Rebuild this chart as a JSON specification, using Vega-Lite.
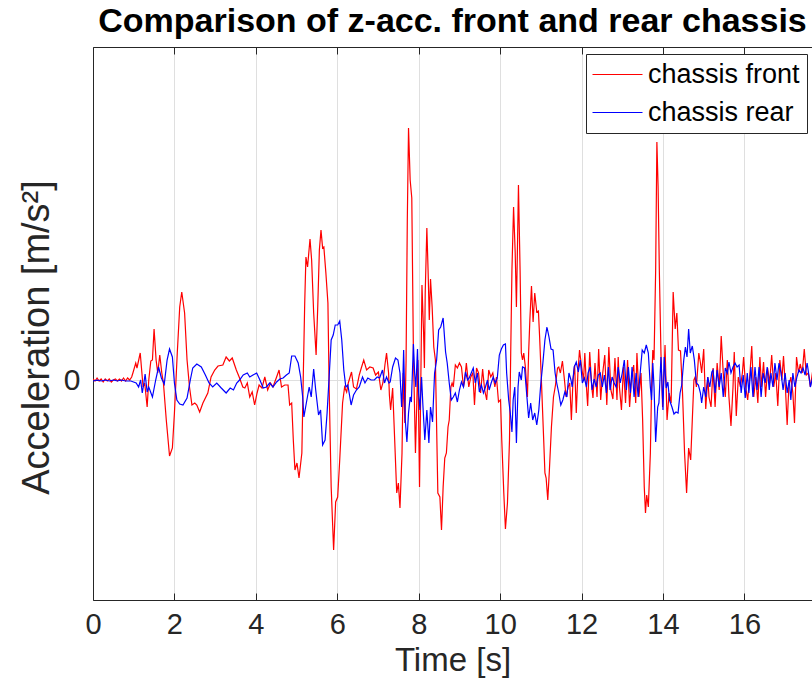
{
"$schema":"https://vega.github.io/schema/vega-lite/v6.json",
"width":719,"height":553,
"autosize":{"type":"none"},
"padding":{"left":93,"top":47,"right":0,"bottom":98},
"background":"white",
"title":{"text":"Comparison of z-acc. front and rear chassis","fontSize":34,"fontWeight":"bold","color":"#000000","font":"Liberation Sans","offset":8,"anchor":"middle"},
"config":{"font":"Liberation Sans","view":{"stroke":null}},
"datasets":{
"acc":[
{"t":0,"a":0.1,"s":"chassis front"},{"t":0.05,"a":-0.1,"s":"chassis front"},{"t":0.1,"a":0.2,"s":"chassis front"},{"t":0.15,"a":-0.1,"s":"chassis front"},{"t":0.2,"a":0.1,"s":"chassis front"},{"t":0.25,"a":-0.2,"s":"chassis front"},{"t":0.3,"a":0.1,"s":"chassis front"},{"t":0.35,"a":-0.1,"s":"chassis front"},{"t":0.4,"a":0.1,"s":"chassis front"},{"t":0.45,"a":-0.2,"s":"chassis front"},{"t":0.5,"a":0,"s":"chassis front"},{"t":0.55,"a":0.1,"s":"chassis front"},{"t":0.6,"a":-0.1,"s":"chassis front"},{"t":0.65,"a":0.1,"s":"chassis front"},{"t":0.7,"a":-0.1,"s":"chassis front"},{"t":0.75,"a":0.2,"s":"chassis front"},{"t":0.8,"a":-0.1,"s":"chassis front"},{"t":0.85,"a":0.2,"s":"chassis front"},{"t":0.9,"a":0,"s":"chassis front"},{"t":0.95,"a":0.3,"s":"chassis front"},
{"t":0.98,"a":0.7,"s":"chassis front"},{"t":1.05,"a":1.7,"s":"chassis front"},{"t":1.08,"a":1.2,"s":"chassis front"},{"t":1.16,"a":2.7,"s":"chassis front"},{"t":1.23,"a":-0.7,"s":"chassis front"},{"t":1.27,"a":-0.3,"s":"chassis front"},{"t":1.33,"a":-2.7,"s":"chassis front"},{"t":1.37,"a":0,"s":"chassis front"},{"t":1.42,"a":1.9,"s":"chassis front"},{"t":1.46,"a":2.0,"s":"chassis front"},{"t":1.5,"a":5.1,"s":"chassis front"},{"t":1.55,"a":2.0,"s":"chassis front"},{"t":1.59,"a":0.7,"s":"chassis front"},{"t":1.64,"a":2.5,"s":"chassis front"},{"t":1.69,"a":0.7,"s":"chassis front"},{"t":1.73,"a":-0.3,"s":"chassis front"},{"t":1.8,"a":-4.0,"s":"chassis front"},{"t":1.88,"a":-7.6,"s":"chassis front"},{"t":1.95,"a":-6.8,"s":"chassis front"},{"t":2.0,"a":-3.3,"s":"chassis front"},{"t":2.07,"a":2.7,"s":"chassis front"},{"t":2.13,"a":7.3,"s":"chassis front"},{"t":2.18,"a":8.8,"s":"chassis front"},{"t":2.25,"a":6.7,"s":"chassis front"},{"t":2.31,"a":2.0,"s":"chassis front"},{"t":2.37,"a":-0.7,"s":"chassis front"},{"t":2.43,"a":-2.5,"s":"chassis front"},{"t":2.5,"a":-2.3,"s":"chassis front"},{"t":2.55,"a":-2.5,"s":"chassis front"},{"t":2.62,"a":-3.2,"s":"chassis front"},{"t":2.7,"a":-2.3,"s":"chassis front"},{"t":2.82,"a":-1.3,"s":"chassis front"},{"t":2.9,"a":0.3,"s":"chassis front"},{"t":2.99,"a":1.0,"s":"chassis front"},{"t":3.07,"a":1.4,"s":"chassis front"},{"t":3.19,"a":1.5,"s":"chassis front"},{"t":3.27,"a":2.3,"s":"chassis front"},{"t":3.35,"a":1.9,"s":"chassis front"},{"t":3.42,"a":2.2,"s":"chassis front"},{"t":3.52,"a":1.0,"s":"chassis front"},{"t":3.6,"a":0.2,"s":"chassis front"},{"t":3.68,"a":-0.7,"s":"chassis front"},{"t":3.73,"a":-0.8,"s":"chassis front"},{"t":3.79,"a":-0.3,"s":"chassis front"},{"t":3.85,"a":-1.7,"s":"chassis front"},{"t":3.91,"a":-1.2,"s":"chassis front"},{"t":3.97,"a":-2.5,"s":"chassis front"},{"t":4.03,"a":-1.3,"s":"chassis front"},{"t":4.08,"a":-0.5,"s":"chassis front"},{"t":4.15,"a":-0.8,"s":"chassis front"},{"t":4.22,"a":0.3,"s":"chassis front"},{"t":4.29,"a":-1.0,"s":"chassis front"},{"t":4.36,"a":-0.3,"s":"chassis front"},{"t":4.42,"a":-0.7,"s":"chassis front"},{"t":4.51,"a":0.3,"s":"chassis front"},{"t":4.57,"a":1.0,"s":"chassis front"},{"t":4.63,"a":-0.7,"s":"chassis front"},{"t":4.71,"a":-0.5,"s":"chassis front"},{"t":4.79,"a":-0.5,"s":"chassis front"},{"t":4.83,"a":-2.5,"s":"chassis front"},{"t":4.88,"a":-2.3,"s":"chassis front"},{"t":4.92,"a":-6.0,"s":"chassis front"},{"t":4.96,"a":-9.0,"s":"chassis front"},{"t":5.01,"a":-8.3,"s":"chassis front"},{"t":5.06,"a":-9.8,"s":"chassis front"},{"t":5.13,"a":-7.3,"s":"chassis front"},{"t":5.16,"a":-0.7,"s":"chassis front"},{"t":5.2,"a":7.7,"s":"chassis front"},{"t":5.23,"a":12.3,"s":"chassis front"},{"t":5.27,"a":11.3,"s":"chassis front"},{"t":5.33,"a":14.1,"s":"chassis front"},{"t":5.37,"a":12.0,"s":"chassis front"},{"t":5.42,"a":6.7,"s":"chassis front"},{"t":5.48,"a":2.5,"s":"chassis front"},{"t":5.52,"a":7.3,"s":"chassis front"},{"t":5.56,"a":13.0,"s":"chassis front"},{"t":5.6,"a":15.0,"s":"chassis front"},{"t":5.64,"a":13.2,"s":"chassis front"},{"t":5.67,"a":13.3,"s":"chassis front"},{"t":5.72,"a":10.7,"s":"chassis front"},{"t":5.77,"a":7.7,"s":"chassis front"},{"t":5.8,"a":-0.7,"s":"chassis front"},{"t":5.85,"a":-10.7,"s":"chassis front"},{"t":5.91,"a":-17.0,"s":"chassis front"},{"t":5.96,"a":-12.2,"s":"chassis front"},{"t":6.01,"a":-11.7,"s":"chassis front"},{"t":6.06,"a":-8.0,"s":"chassis front"},{"t":6.13,"a":-2.3,"s":"chassis front"},{"t":6.18,"a":-0.7,"s":"chassis front"},{"t":6.23,"a":-1.2,"s":"chassis front"},{"t":6.27,"a":-0.3,"s":"chassis front"},{"t":6.35,"a":0.8,"s":"chassis front"},{"t":6.4,"a":-0.7,"s":"chassis front"},{"t":6.47,"a":-0.9,"s":"chassis front"},{"t":6.54,"a":0.5,"s":"chassis front"},{"t":6.59,"a":1.2,"s":"chassis front"},{"t":6.65,"a":2.0,"s":"chassis front"},{"t":6.72,"a":1.0,"s":"chassis front"},{"t":6.8,"a":1.3,"s":"chassis front"},{"t":6.88,"a":1.2,"s":"chassis front"},{"t":6.94,"a":0.5,"s":"chassis front"},{"t":7.01,"a":0.8,"s":"chassis front"},{"t":7.07,"a":-1.0,"s":"chassis front"},{"t":7.12,"a":-0.3,"s":"chassis front"},{"t":7.17,"a":1.5,"s":"chassis front"},{"t":7.21,"a":2.7,"s":"chassis front"},{"t":7.26,"a":0.7,"s":"chassis front"},{"t":7.28,"a":-1.5,"s":"chassis front"},{"t":7.31,"a":-3.0,"s":"chassis front"},{"t":7.36,"a":-0.8,"s":"chassis front"},{"t":7.41,"a":-6.0,"s":"chassis front"},{"t":7.46,"a":-11.3,"s":"chassis front"},{"t":7.5,"a":-10.3,"s":"chassis front"},{"t":7.54,"a":-12.8,"s":"chassis front"},{"t":7.59,"a":-7.3,"s":"chassis front"},{"t":7.62,"a":0.7,"s":"chassis front"},{"t":7.66,"a":-4.3,"s":"chassis front"},{"t":7.69,"a":2.0,"s":"chassis front"},{"t":7.72,"a":16.0,"s":"chassis front"},{"t":7.75,"a":25.2,"s":"chassis front"},{"t":7.79,"a":20.0,"s":"chassis front"},{"t":7.83,"a":18.2,"s":"chassis front"},{"t":7.87,"a":2.7,"s":"chassis front"},{"t":7.92,"a":-7.3,"s":"chassis front"},{"t":7.95,"a":-2.7,"s":"chassis front"},{"t":7.98,"a":2.0,"s":"chassis front"},{"t":8.02,"a":-10.7,"s":"chassis front"},{"t":8.05,"a":-0.7,"s":"chassis front"},{"t":8.08,"a":9.5,"s":"chassis front"},{"t":8.12,"a":4.7,"s":"chassis front"},{"t":8.14,"a":1.2,"s":"chassis front"},{"t":8.16,"a":8.7,"s":"chassis front"},{"t":8.2,"a":15.2,"s":"chassis front"},{"t":8.23,"a":11.0,"s":"chassis front"},{"t":8.26,"a":6.0,"s":"chassis front"},{"t":8.29,"a":10.1,"s":"chassis front"},{"t":8.33,"a":7.3,"s":"chassis front"},{"t":8.37,"a":3.3,"s":"chassis front"},{"t":8.41,"a":2.0,"s":"chassis front"},{"t":8.44,"a":-4.7,"s":"chassis front"},{"t":8.47,"a":-11.3,"s":"chassis front"},{"t":8.52,"a":-11.7,"s":"chassis front"},{"t":8.56,"a":-15.0,"s":"chassis front"},{"t":8.6,"a":-10.7,"s":"chassis front"},{"t":8.64,"a":-7.8,"s":"chassis front"},{"t":8.68,"a":-7.3,"s":"chassis front"},{"t":8.72,"a":-4.7,"s":"chassis front"},{"t":8.75,"a":-4.0,"s":"chassis front"},{"t":8.79,"a":-0.7,"s":"chassis front"},{"t":8.82,"a":-0.3,"s":"chassis front"},{"t":8.85,"a":-0.7,"s":"chassis front"},{"t":8.9,"a":1.5,"s":"chassis front"},{"t":8.95,"a":1.2,"s":"chassis front"},{"t":9.0,"a":1.7,"s":"chassis front"},{"t":9.05,"a":1.3,"s":"chassis front"},{"t":9.1,"a":-0.7,"s":"chassis front"},{"t":9.13,"a":0,"s":"chassis front"},{"t":9.17,"a":1.7,"s":"chassis front"},{"t":9.23,"a":-0.7,"s":"chassis front"},{"t":9.28,"a":0.3,"s":"chassis front"},{"t":9.33,"a":0.7,"s":"chassis front"},{"t":9.37,"a":-2.5,"s":"chassis front"},{"t":9.42,"a":1.2,"s":"chassis front"},{"t":9.47,"a":0.7,"s":"chassis front"},{"t":9.52,"a":-1.3,"s":"chassis front"},{"t":9.57,"a":1.1,"s":"chassis front"},{"t":9.62,"a":-1.0,"s":"chassis front"},{"t":9.67,"a":-2.0,"s":"chassis front"},{"t":9.72,"a":1.0,"s":"chassis front"},{"t":9.77,"a":0.3,"s":"chassis front"},{"t":9.82,"a":0.7,"s":"chassis front"},{"t":9.87,"a":-0.7,"s":"chassis front"},{"t":9.91,"a":0.3,"s":"chassis front"},{"t":9.96,"a":-2.2,"s":"chassis front"},{"t":10.01,"a":-2.0,"s":"chassis front"},{"t":10.04,"a":-6.0,"s":"chassis front"},{"t":10.09,"a":-11.3,"s":"chassis front"},{"t":10.13,"a":-14.9,"s":"chassis front"},{"t":10.18,"a":-12.3,"s":"chassis front"},{"t":10.23,"a":-6.0,"s":"chassis front"},{"t":10.26,"a":2.7,"s":"chassis front"},{"t":10.29,"a":11.0,"s":"chassis front"},{"t":10.33,"a":17.3,"s":"chassis front"},{"t":10.37,"a":12.7,"s":"chassis front"},{"t":10.4,"a":7.3,"s":"chassis front"},{"t":10.43,"a":14.3,"s":"chassis front"},{"t":10.45,"a":19.5,"s":"chassis front"},{"t":10.49,"a":11.0,"s":"chassis front"},{"t":10.52,"a":2.7,"s":"chassis front"},{"t":10.55,"a":2.0,"s":"chassis front"},{"t":10.58,"a":2.7,"s":"chassis front"},{"t":10.62,"a":1.3,"s":"chassis front"},{"t":10.67,"a":-1.7,"s":"chassis front"},{"t":10.7,"a":2.7,"s":"chassis front"},{"t":10.73,"a":6.0,"s":"chassis front"},{"t":10.77,"a":9.4,"s":"chassis front"},{"t":10.81,"a":5.8,"s":"chassis front"},{"t":10.85,"a":8.7,"s":"chassis front"},{"t":10.9,"a":6.8,"s":"chassis front"},{"t":10.94,"a":6.9,"s":"chassis front"},{"t":10.97,"a":4.3,"s":"chassis front"},{"t":11.02,"a":-0.7,"s":"chassis front"},{"t":11.07,"a":-6.0,"s":"chassis front"},{"t":11.1,"a":-9.3,"s":"chassis front"},{"t":11.13,"a":-9.8,"s":"chassis front"},{"t":11.17,"a":-12.0,"s":"chassis front"},{"t":11.21,"a":-9.0,"s":"chassis front"},{"t":11.26,"a":-4.7,"s":"chassis front"},{"t":11.31,"a":-1.7,"s":"chassis front"},{"t":11.36,"a":-0.5,"s":"chassis front"},{"t":11.41,"a":1.2,"s":"chassis front"},{"t":11.44,"a":1.3,"s":"chassis front"},{"t":11.48,"a":0.7,"s":"chassis front"},{"t":11.53,"a":1.9,"s":"chassis front"},{"t":11.58,"a":0,"s":"chassis front"},{"t":11.62,"a":-1.7,"s":"chassis front"},{"t":11.67,"a":-0.7,"s":"chassis front"},{"t":11.71,"a":-0.3,"s":"chassis front"},{"t":11.75,"a":-4.0,"s":"chassis front"},{"t":11.79,"a":0,"s":"chassis front"},{"t":11.83,"a":1.5,"s":"chassis front"},{"t":11.87,"a":-3.3,"s":"chassis front"},{"t":11.91,"a":0.7,"s":"chassis front"},{"t":11.95,"a":3.0,"s":"chassis front"},{"t":12.0,"a":1.3,"s":"chassis front"},{"t":12.05,"a":0,"s":"chassis front"},{"t":12.08,"a":2.7,"s":"chassis front"},{"t":12.12,"a":-0.7,"s":"chassis front"},{"t":12.15,"a":-2.6,"s":"chassis front"},{"t":12.2,"a":2.8,"s":"chassis front"},{"t":12.25,"a":-0.7,"s":"chassis front"},{"t":12.28,"a":-1.8,"s":"chassis front"},{"t":12.33,"a":1.7,"s":"chassis front"},{"t":12.38,"a":-1.7,"s":"chassis front"},{"t":12.42,"a":3.1,"s":"chassis front"},{"t":12.47,"a":-2.0,"s":"chassis front"},{"t":12.52,"a":0.7,"s":"chassis front"},{"t":12.57,"a":2.5,"s":"chassis front"},{"t":12.62,"a":-2.5,"s":"chassis front"},{"t":12.67,"a":3.3,"s":"chassis front"},{"t":12.72,"a":-1.0,"s":"chassis front"},{"t":12.77,"a":-1.9,"s":"chassis front"},{"t":12.82,"a":2.2,"s":"chassis front"},{"t":12.87,"a":-2.0,"s":"chassis front"},{"t":12.9,"a":2.3,"s":"chassis front"},{"t":12.93,"a":-0.7,"s":"chassis front"},{"t":12.98,"a":-3.0,"s":"chassis front"},{"t":13.03,"a":1.3,"s":"chassis front"},{"t":13.08,"a":-2.3,"s":"chassis front"},{"t":13.13,"a":2.0,"s":"chassis front"},{"t":13.18,"a":-2.7,"s":"chassis front"},{"t":13.23,"a":0.3,"s":"chassis front"},{"t":13.28,"a":1.5,"s":"chassis front"},{"t":13.33,"a":-2.3,"s":"chassis front"},{"t":13.36,"a":2.7,"s":"chassis front"},{"t":13.41,"a":-1.7,"s":"chassis front"},{"t":13.46,"a":0.7,"s":"chassis front"},{"t":13.5,"a":-4.0,"s":"chassis front"},{"t":13.54,"a":-10.7,"s":"chassis front"},{"t":13.57,"a":-13.3,"s":"chassis front"},{"t":13.6,"a":-11.5,"s":"chassis front"},{"t":13.64,"a":-12.7,"s":"chassis front"},{"t":13.69,"a":-7.3,"s":"chassis front"},{"t":13.72,"a":-0.7,"s":"chassis front"},{"t":13.75,"a":3.0,"s":"chassis front"},{"t":13.78,"a":2.0,"s":"chassis front"},{"t":13.82,"a":11.0,"s":"chassis front"},{"t":13.85,"a":23.8,"s":"chassis front"},{"t":13.88,"a":19.3,"s":"chassis front"},{"t":13.91,"a":11.0,"s":"chassis front"},{"t":13.95,"a":2.7,"s":"chassis front"},{"t":13.99,"a":-2.7,"s":"chassis front"},{"t":14.03,"a":1.0,"s":"chassis front"},{"t":14.05,"a":3.5,"s":"chassis front"},{"t":14.1,"a":-4.0,"s":"chassis front"},{"t":14.15,"a":-1.3,"s":"chassis front"},{"t":14.2,"a":-2.3,"s":"chassis front"},{"t":14.25,"a":8.8,"s":"chassis front"},{"t":14.3,"a":5.1,"s":"chassis front"},{"t":14.34,"a":6.7,"s":"chassis front"},{"t":14.38,"a":3.0,"s":"chassis front"},{"t":14.43,"a":2.9,"s":"chassis front"},{"t":14.48,"a":-1.3,"s":"chassis front"},{"t":14.53,"a":-7.3,"s":"chassis front"},{"t":14.58,"a":-11.3,"s":"chassis front"},{"t":14.63,"a":-6.8,"s":"chassis front"},{"t":14.68,"a":-8.0,"s":"chassis front"},{"t":14.72,"a":-4.0,"s":"chassis front"},{"t":14.76,"a":0,"s":"chassis front"},{"t":14.79,"a":0.3,"s":"chassis front"},{"t":14.82,"a":-0.7,"s":"chassis front"},{"t":14.88,"a":2.7,"s":"chassis front"},{"t":14.92,"a":1.7,"s":"chassis front"},{"t":14.95,"a":0.7,"s":"chassis front"},{"t":15.0,"a":3.1,"s":"chassis front"},{"t":15.05,"a":-2.9,"s":"chassis front"},{"t":15.1,"a":0.3,"s":"chassis front"},{"t":15.13,"a":-1.7,"s":"chassis front"},{"t":15.18,"a":-2.7,"s":"chassis front"},{"t":15.23,"a":1.2,"s":"chassis front"},{"t":15.28,"a":-2.7,"s":"chassis front"},{"t":15.33,"a":1.7,"s":"chassis front"},{"t":15.38,"a":-1.0,"s":"chassis front"},{"t":15.43,"a":4.4,"s":"chassis front"},{"t":15.48,"a":0.7,"s":"chassis front"},{"t":15.53,"a":-1.7,"s":"chassis front"},{"t":15.58,"a":2.0,"s":"chassis front"},{"t":15.62,"a":-1.7,"s":"chassis front"},{"t":15.67,"a":-4.6,"s":"chassis front"},{"t":15.72,"a":-0.7,"s":"chassis front"},{"t":15.75,"a":2.8,"s":"chassis front"},{"t":15.8,"a":-3.6,"s":"chassis front"},{"t":15.85,"a":0.3,"s":"chassis front"},{"t":15.9,"a":-0.7,"s":"chassis front"},{"t":15.95,"a":0.7,"s":"chassis front"},{"t":15.98,"a":2.3,"s":"chassis front"},{"t":16.03,"a":-0.7,"s":"chassis front"},{"t":16.08,"a":-2.0,"s":"chassis front"},{"t":16.13,"a":0.3,"s":"chassis front"},{"t":16.18,"a":3.4,"s":"chassis front"},{"t":16.23,"a":-1.7,"s":"chassis front"},{"t":16.28,"a":0.3,"s":"chassis front"},{"t":16.33,"a":-2.3,"s":"chassis front"},{"t":16.38,"a":2.3,"s":"chassis front"},{"t":16.42,"a":-0.7,"s":"chassis front"},{"t":16.47,"a":1.8,"s":"chassis front"},{"t":16.52,"a":-1.7,"s":"chassis front"},{"t":16.57,"a":1.2,"s":"chassis front"},{"t":16.62,"a":-0.3,"s":"chassis front"},{"t":16.67,"a":2.5,"s":"chassis front"},{"t":16.72,"a":-0.7,"s":"chassis front"},{"t":16.77,"a":0.7,"s":"chassis front"},{"t":16.82,"a":-2.6,"s":"chassis front"},{"t":16.87,"a":2.0,"s":"chassis front"},{"t":16.92,"a":0,"s":"chassis front"},{"t":16.96,"a":2.4,"s":"chassis front"},{"t":17.01,"a":-1.0,"s":"chassis front"},{"t":17.05,"a":-4.5,"s":"chassis front"},{"t":17.09,"a":-0.7,"s":"chassis front"},{"t":17.14,"a":0.3,"s":"chassis front"},{"t":17.19,"a":-1.3,"s":"chassis front"},{"t":17.23,"a":-4.3,"s":"chassis front"},{"t":17.28,"a":2.3,"s":"chassis front"},{"t":17.33,"a":0.7,"s":"chassis front"},{"t":17.37,"a":1.6,"s":"chassis front"},{"t":17.42,"a":0.7,"s":"chassis front"},{"t":17.47,"a":3.1,"s":"chassis front"},{"t":17.52,"a":0.5,"s":"chassis front"},{"t":17.57,"a":0.7,"s":"chassis front"},{"t":17.62,"a":-0.7,"s":"chassis front"},{"t":17.68,"a":1.0,"s":"chassis front"},
{"t":0,"a":-0.1,"s":"chassis rear"},{"t":0.1,"a":0,"s":"chassis rear"},{"t":0.2,"a":-0.1,"s":"chassis rear"},{"t":0.3,"a":0,"s":"chassis rear"},{"t":0.4,"a":-0.1,"s":"chassis rear"},{"t":0.5,"a":0,"s":"chassis rear"},{"t":0.6,"a":-0.1,"s":"chassis rear"},{"t":0.7,"a":0,"s":"chassis rear"},{"t":0.8,"a":-0.1,"s":"chassis rear"},{"t":0.93,"a":-0.1,"s":"chassis rear"},{"t":1.06,"a":-0.3,"s":"chassis rear"},{"t":1.12,"a":-0.7,"s":"chassis rear"},{"t":1.17,"a":0,"s":"chassis rear"},{"t":1.21,"a":-1.3,"s":"chassis rear"},{"t":1.25,"a":-0.3,"s":"chassis rear"},{"t":1.28,"a":0.6,"s":"chassis rear"},{"t":1.33,"a":-1.2,"s":"chassis rear"},{"t":1.37,"a":-0.7,"s":"chassis rear"},{"t":1.46,"a":-1.7,"s":"chassis rear"},{"t":1.54,"a":0,"s":"chassis rear"},{"t":1.61,"a":1.3,"s":"chassis rear"},{"t":1.68,"a":0.2,"s":"chassis rear"},{"t":1.75,"a":-0.4,"s":"chassis rear"},{"t":1.82,"a":2.0,"s":"chassis rear"},{"t":1.88,"a":3.1,"s":"chassis rear"},{"t":1.95,"a":2.3,"s":"chassis rear"},{"t":2.0,"a":-0.3,"s":"chassis rear"},{"t":2.06,"a":-2.0,"s":"chassis rear"},{"t":2.13,"a":-2.4,"s":"chassis rear"},{"t":2.21,"a":-2.5,"s":"chassis rear"},{"t":2.31,"a":-1.8,"s":"chassis rear"},{"t":2.39,"a":0,"s":"chassis rear"},{"t":2.45,"a":1.2,"s":"chassis rear"},{"t":2.55,"a":1.6,"s":"chassis rear"},{"t":2.66,"a":1.3,"s":"chassis rear"},{"t":2.76,"a":0.5,"s":"chassis rear"},{"t":2.85,"a":-0.3,"s":"chassis rear"},{"t":2.94,"a":-0.7,"s":"chassis rear"},{"t":3.04,"a":-0.3,"s":"chassis rear"},{"t":3.15,"a":-0.8,"s":"chassis rear"},{"t":3.27,"a":-1.3,"s":"chassis rear"},{"t":3.37,"a":-0.8,"s":"chassis rear"},{"t":3.45,"a":-1.0,"s":"chassis rear"},{"t":3.53,"a":-0.3,"s":"chassis rear"},{"t":3.6,"a":0,"s":"chassis rear"},{"t":3.69,"a":0.5,"s":"chassis rear"},{"t":3.79,"a":0.7,"s":"chassis rear"},{"t":3.85,"a":0.3,"s":"chassis rear"},{"t":3.93,"a":0.5,"s":"chassis rear"},{"t":4.02,"a":0.7,"s":"chassis rear"},{"t":4.1,"a":0,"s":"chassis rear"},{"t":4.18,"a":-0.8,"s":"chassis rear"},{"t":4.26,"a":-0.7,"s":"chassis rear"},{"t":4.34,"a":-0.3,"s":"chassis rear"},{"t":4.42,"a":-0.7,"s":"chassis rear"},{"t":4.51,"a":-0.2,"s":"chassis rear"},{"t":4.59,"a":0.1,"s":"chassis rear"},{"t":4.67,"a":0.2,"s":"chassis rear"},{"t":4.75,"a":0.5,"s":"chassis rear"},{"t":4.82,"a":0.7,"s":"chassis rear"},{"t":4.88,"a":2.4,"s":"chassis rear"},{"t":4.96,"a":2.4,"s":"chassis rear"},{"t":5.04,"a":1.7,"s":"chassis rear"},{"t":5.1,"a":0.3,"s":"chassis rear"},{"t":5.15,"a":-1.7,"s":"chassis rear"},{"t":5.18,"a":-3.7,"s":"chassis rear"},{"t":5.24,"a":-2.3,"s":"chassis rear"},{"t":5.31,"a":-0.7,"s":"chassis rear"},{"t":5.36,"a":-1.7,"s":"chassis rear"},{"t":5.42,"a":1.1,"s":"chassis rear"},{"t":5.47,"a":-1.0,"s":"chassis rear"},{"t":5.54,"a":-3.5,"s":"chassis rear"},{"t":5.59,"a":-3.0,"s":"chassis rear"},{"t":5.64,"a":-6.5,"s":"chassis rear"},{"t":5.7,"a":-6.0,"s":"chassis rear"},{"t":5.75,"a":-3.3,"s":"chassis rear"},{"t":5.8,"a":0.3,"s":"chassis rear"},{"t":5.85,"a":4.0,"s":"chassis rear"},{"t":5.9,"a":4.5,"s":"chassis rear"},{"t":5.95,"a":5.5,"s":"chassis rear"},{"t":6.01,"a":5.5,"s":"chassis rear"},{"t":6.06,"a":5.9,"s":"chassis rear"},{"t":6.11,"a":4.0,"s":"chassis rear"},{"t":6.16,"a":1.0,"s":"chassis rear"},{"t":6.21,"a":-0.7,"s":"chassis rear"},{"t":6.26,"a":-0.5,"s":"chassis rear"},{"t":6.34,"a":-2.5,"s":"chassis rear"},{"t":6.4,"a":-1.5,"s":"chassis rear"},{"t":6.47,"a":-1.0,"s":"chassis rear"},{"t":6.54,"a":-0.7,"s":"chassis rear"},{"t":6.62,"a":0.3,"s":"chassis rear"},{"t":6.68,"a":-0.3,"s":"chassis rear"},{"t":6.75,"a":0.2,"s":"chassis rear"},{"t":6.83,"a":0,"s":"chassis rear"},{"t":6.91,"a":0,"s":"chassis rear"},{"t":6.98,"a":0.3,"s":"chassis rear"},{"t":7.04,"a":0.2,"s":"chassis rear"},{"t":7.11,"a":1.0,"s":"chassis rear"},{"t":7.16,"a":-0.3,"s":"chassis rear"},{"t":7.21,"a":0.3,"s":"chassis rear"},{"t":7.27,"a":-0.3,"s":"chassis rear"},{"t":7.3,"a":-0.2,"s":"chassis rear"},{"t":7.36,"a":1.3,"s":"chassis rear"},{"t":7.43,"a":2.2,"s":"chassis rear"},{"t":7.49,"a":2.0,"s":"chassis rear"},{"t":7.54,"a":0.7,"s":"chassis rear"},{"t":7.58,"a":-2.7,"s":"chassis rear"},{"t":7.61,"a":0,"s":"chassis rear"},{"t":7.63,"a":3.0,"s":"chassis rear"},{"t":7.67,"a":-4.0,"s":"chassis rear"},{"t":7.71,"a":-6.2,"s":"chassis rear"},{"t":7.75,"a":-3.3,"s":"chassis rear"},{"t":7.79,"a":-1.7,"s":"chassis rear"},{"t":7.82,"a":-2.2,"s":"chassis rear"},{"t":7.87,"a":3.6,"s":"chassis rear"},{"t":7.9,"a":0.7,"s":"chassis rear"},{"t":7.93,"a":-0.7,"s":"chassis rear"},{"t":7.97,"a":3.1,"s":"chassis rear"},{"t":8.0,"a":-1.3,"s":"chassis rear"},{"t":8.03,"a":-3.0,"s":"chassis rear"},{"t":8.07,"a":0.3,"s":"chassis rear"},{"t":8.1,"a":-2.3,"s":"chassis rear"},{"t":8.15,"a":-6.0,"s":"chassis rear"},{"t":8.2,"a":-3.0,"s":"chassis rear"},{"t":8.25,"a":-6.3,"s":"chassis rear"},{"t":8.29,"a":-2.7,"s":"chassis rear"},{"t":8.34,"a":-4.2,"s":"chassis rear"},{"t":8.39,"a":0.7,"s":"chassis rear"},{"t":8.44,"a":2.0,"s":"chassis rear"},{"t":8.49,"a":5.0,"s":"chassis rear"},{"t":8.54,"a":5.3,"s":"chassis rear"},{"t":8.6,"a":6.2,"s":"chassis rear"},{"t":8.66,"a":2.8,"s":"chassis rear"},{"t":8.7,"a":1.7,"s":"chassis rear"},{"t":8.75,"a":-0.3,"s":"chassis rear"},{"t":8.8,"a":-2.0,"s":"chassis rear"},{"t":8.85,"a":-1.7,"s":"chassis rear"},{"t":8.9,"a":-1.3,"s":"chassis rear"},{"t":8.95,"a":-2.2,"s":"chassis rear"},{"t":9.0,"a":-1.0,"s":"chassis rear"},{"t":9.05,"a":-0.2,"s":"chassis rear"},{"t":9.1,"a":-0.7,"s":"chassis rear"},{"t":9.15,"a":0.8,"s":"chassis rear"},{"t":9.2,"a":0,"s":"chassis rear"},{"t":9.24,"a":0.2,"s":"chassis rear"},{"t":9.29,"a":0.7,"s":"chassis rear"},{"t":9.34,"a":1.2,"s":"chassis rear"},{"t":9.39,"a":-0.3,"s":"chassis rear"},{"t":9.44,"a":0.7,"s":"chassis rear"},{"t":9.49,"a":-1.2,"s":"chassis rear"},{"t":9.54,"a":-0.5,"s":"chassis rear"},{"t":9.59,"a":-1.3,"s":"chassis rear"},{"t":9.64,"a":-0.7,"s":"chassis rear"},{"t":9.69,"a":0,"s":"chassis rear"},{"t":9.73,"a":-1.0,"s":"chassis rear"},{"t":9.78,"a":-0.3,"s":"chassis rear"},{"t":9.83,"a":0.3,"s":"chassis rear"},{"t":9.88,"a":-0.3,"s":"chassis rear"},{"t":9.93,"a":0.2,"s":"chassis rear"},{"t":9.98,"a":2.5,"s":"chassis rear"},{"t":10.03,"a":3.1,"s":"chassis rear"},{"t":10.08,"a":3.5,"s":"chassis rear"},{"t":10.13,"a":3.6,"s":"chassis rear"},{"t":10.16,"a":0.7,"s":"chassis rear"},{"t":10.21,"a":-2.0,"s":"chassis rear"},{"t":10.25,"a":-3.3,"s":"chassis rear"},{"t":10.29,"a":-5.2,"s":"chassis rear"},{"t":10.32,"a":-2.0,"s":"chassis rear"},{"t":10.36,"a":-0.7,"s":"chassis rear"},{"t":10.4,"a":-6.3,"s":"chassis rear"},{"t":10.44,"a":-0.7,"s":"chassis rear"},{"t":10.47,"a":0.8,"s":"chassis rear"},{"t":10.52,"a":0,"s":"chassis rear"},{"t":10.55,"a":1.3,"s":"chassis rear"},{"t":10.6,"a":1.2,"s":"chassis rear"},{"t":10.65,"a":-1.3,"s":"chassis rear"},{"t":10.7,"a":-3.8,"s":"chassis rear"},{"t":10.75,"a":-2.3,"s":"chassis rear"},{"t":10.8,"a":-4.0,"s":"chassis rear"},{"t":10.85,"a":-3.3,"s":"chassis rear"},{"t":10.9,"a":-4.5,"s":"chassis rear"},{"t":10.95,"a":-3.0,"s":"chassis rear"},{"t":11.0,"a":-0.3,"s":"chassis rear"},{"t":11.05,"a":1.7,"s":"chassis rear"},{"t":11.1,"a":4.0,"s":"chassis rear"},{"t":11.15,"a":5.3,"s":"chassis rear"},{"t":11.2,"a":4.3,"s":"chassis rear"},{"t":11.25,"a":3.1,"s":"chassis rear"},{"t":11.3,"a":3.0,"s":"chassis rear"},{"t":11.35,"a":0.7,"s":"chassis rear"},{"t":11.39,"a":-0.3,"s":"chassis rear"},{"t":11.44,"a":-1.3,"s":"chassis rear"},{"t":11.49,"a":-2.5,"s":"chassis rear"},{"t":11.54,"a":-2.0,"s":"chassis rear"},{"t":11.59,"a":-1.2,"s":"chassis rear"},{"t":11.64,"a":-1.7,"s":"chassis rear"},{"t":11.69,"a":0.7,"s":"chassis rear"},{"t":11.74,"a":0,"s":"chassis rear"},{"t":11.77,"a":-0.7,"s":"chassis rear"},{"t":11.82,"a":1.3,"s":"chassis rear"},{"t":11.87,"a":1.8,"s":"chassis rear"},{"t":11.92,"a":0.8,"s":"chassis rear"},{"t":11.97,"a":2.0,"s":"chassis rear"},{"t":12.02,"a":-0.3,"s":"chassis rear"},{"t":12.07,"a":0.2,"s":"chassis rear"},{"t":12.12,"a":-0.7,"s":"chassis rear"},{"t":12.16,"a":0.7,"s":"chassis rear"},{"t":12.21,"a":1.3,"s":"chassis rear"},{"t":12.26,"a":-1.0,"s":"chassis rear"},{"t":12.31,"a":0.1,"s":"chassis rear"},{"t":12.36,"a":-0.7,"s":"chassis rear"},{"t":12.41,"a":0.5,"s":"chassis rear"},{"t":12.46,"a":0.7,"s":"chassis rear"},{"t":12.51,"a":-0.7,"s":"chassis rear"},{"t":12.56,"a":0.5,"s":"chassis rear"},{"t":12.61,"a":-1.3,"s":"chassis rear"},{"t":12.66,"a":1.3,"s":"chassis rear"},{"t":12.7,"a":-1.0,"s":"chassis rear"},{"t":12.75,"a":0.3,"s":"chassis rear"},{"t":12.8,"a":-0.3,"s":"chassis rear"},{"t":12.85,"a":-0.7,"s":"chassis rear"},{"t":12.9,"a":1.3,"s":"chassis rear"},{"t":12.95,"a":-0.3,"s":"chassis rear"},{"t":13.0,"a":0.7,"s":"chassis rear"},{"t":13.05,"a":2.0,"s":"chassis rear"},{"t":13.1,"a":-1.0,"s":"chassis rear"},{"t":13.15,"a":1.3,"s":"chassis rear"},{"t":13.2,"a":-1.3,"s":"chassis rear"},{"t":13.24,"a":1.3,"s":"chassis rear"},{"t":13.29,"a":-1.7,"s":"chassis rear"},{"t":13.34,"a":0.7,"s":"chassis rear"},{"t":13.39,"a":-1.7,"s":"chassis rear"},{"t":13.44,"a":0.7,"s":"chassis rear"},{"t":13.49,"a":3.0,"s":"chassis rear"},{"t":13.54,"a":2.7,"s":"chassis rear"},{"t":13.59,"a":3.5,"s":"chassis rear"},{"t":13.64,"a":2.7,"s":"chassis rear"},{"t":13.69,"a":-0.7,"s":"chassis rear"},{"t":13.72,"a":-2.0,"s":"chassis rear"},{"t":13.75,"a":1.7,"s":"chassis rear"},{"t":13.78,"a":-0.7,"s":"chassis rear"},{"t":13.82,"a":-6.2,"s":"chassis rear"},{"t":13.87,"a":-2.7,"s":"chassis rear"},{"t":13.9,"a":-2.3,"s":"chassis rear"},{"t":13.95,"a":2.3,"s":"chassis rear"},{"t":14.0,"a":-3.0,"s":"chassis rear"},{"t":14.03,"a":2.3,"s":"chassis rear"},{"t":14.08,"a":-0.8,"s":"chassis rear"},{"t":14.12,"a":-0.2,"s":"chassis rear"},{"t":14.16,"a":-2.0,"s":"chassis rear"},{"t":14.22,"a":-2.7,"s":"chassis rear"},{"t":14.27,"a":-3.4,"s":"chassis rear"},{"t":14.32,"a":-3.2,"s":"chassis rear"},{"t":14.37,"a":-3.3,"s":"chassis rear"},{"t":14.42,"a":-1.3,"s":"chassis rear"},{"t":14.46,"a":-0.5,"s":"chassis rear"},{"t":14.51,"a":2.0,"s":"chassis rear"},{"t":14.55,"a":3.3,"s":"chassis rear"},{"t":14.59,"a":2.3,"s":"chassis rear"},{"t":14.63,"a":5.1,"s":"chassis rear"},{"t":14.67,"a":2.7,"s":"chassis rear"},{"t":14.72,"a":3.4,"s":"chassis rear"},{"t":14.77,"a":2.0,"s":"chassis rear"},{"t":14.82,"a":-0.3,"s":"chassis rear"},{"t":14.87,"a":-0.5,"s":"chassis rear"},{"t":14.92,"a":-1.3,"s":"chassis rear"},{"t":14.95,"a":-2.3,"s":"chassis rear"},{"t":15.0,"a":-0.7,"s":"chassis rear"},{"t":15.05,"a":-1.7,"s":"chassis rear"},{"t":15.1,"a":0.3,"s":"chassis rear"},{"t":15.15,"a":-0.7,"s":"chassis rear"},{"t":15.2,"a":0.8,"s":"chassis rear"},{"t":15.23,"a":1.0,"s":"chassis rear"},{"t":15.28,"a":-1.3,"s":"chassis rear"},{"t":15.33,"a":1.0,"s":"chassis rear"},{"t":15.38,"a":-0.7,"s":"chassis rear"},{"t":15.43,"a":0.7,"s":"chassis rear"},{"t":15.48,"a":-1.7,"s":"chassis rear"},{"t":15.53,"a":1.2,"s":"chassis rear"},{"t":15.58,"a":0.7,"s":"chassis rear"},{"t":15.62,"a":1.8,"s":"chassis rear"},{"t":15.67,"a":0.7,"s":"chassis rear"},{"t":15.72,"a":1.3,"s":"chassis rear"},{"t":15.77,"a":1.7,"s":"chassis rear"},{"t":15.82,"a":1.3,"s":"chassis rear"},{"t":15.87,"a":1.5,"s":"chassis rear"},{"t":15.92,"a":-1.3,"s":"chassis rear"},{"t":15.97,"a":0.5,"s":"chassis rear"},{"t":16.02,"a":-1.8,"s":"chassis rear"},{"t":16.07,"a":0.7,"s":"chassis rear"},{"t":16.11,"a":-1.3,"s":"chassis rear"},{"t":16.16,"a":1.3,"s":"chassis rear"},{"t":16.21,"a":-1.7,"s":"chassis rear"},{"t":16.26,"a":1.3,"s":"chassis rear"},{"t":16.31,"a":-1.0,"s":"chassis rear"},{"t":16.36,"a":1.3,"s":"chassis rear"},{"t":16.41,"a":-1.7,"s":"chassis rear"},{"t":16.46,"a":0.7,"s":"chassis rear"},{"t":16.51,"a":-0.3,"s":"chassis rear"},{"t":16.56,"a":1.3,"s":"chassis rear"},{"t":16.61,"a":-1.0,"s":"chassis rear"},{"t":16.65,"a":0.7,"s":"chassis rear"},{"t":16.7,"a":-0.7,"s":"chassis rear"},{"t":16.75,"a":1.7,"s":"chassis rear"},{"t":16.8,"a":0,"s":"chassis rear"},{"t":16.85,"a":1.7,"s":"chassis rear"},{"t":16.9,"a":0.7,"s":"chassis rear"},{"t":16.95,"a":-1.0,"s":"chassis rear"},{"t":17.0,"a":0.7,"s":"chassis rear"},{"t":17.05,"a":-1.3,"s":"chassis rear"},{"t":17.1,"a":0,"s":"chassis rear"},{"t":17.14,"a":-2.0,"s":"chassis rear"},{"t":17.19,"a":0.7,"s":"chassis rear"},{"t":17.24,"a":-0.7,"s":"chassis rear"},{"t":17.29,"a":0.3,"s":"chassis rear"},{"t":17.34,"a":1.0,"s":"chassis rear"},{"t":17.39,"a":0.7,"s":"chassis rear"},{"t":17.44,"a":1.2,"s":"chassis rear"},{"t":17.49,"a":0.5,"s":"chassis rear"},{"t":17.54,"a":1.7,"s":"chassis rear"},{"t":17.59,"a":0.3,"s":"chassis rear"},{"t":17.62,"a":-0.7,"s":"chassis rear"},{"t":17.68,"a":0.3,"s":"chassis rear"}
]},
"data":{"name":"acc"},
"resolve":{"axis":{"x":"independent"}},
"layer":[
{"mark":{"type":"line","strokeWidth":1.2,"clip":true,"interpolate":"linear"},
"encoding":{
"x":{"field":"t","type":"quantitative","scale":{"domain":[0,17.66],"nice":false,"zero":false},
"axis":{"orient":"bottom","values":[0,2,4,6,8,10,12,14,16],"grid":true,"gridColor":"#dfdfdf","gridWidth":1,"domainColor":"#262626","domainWidth":1,"tickColor":"#262626","tickSize":-7,"labelFlush":false,"labelFontSize":29,"labelColor":"#262626","labelPadding":17,"labelFont":"Liberation Sans","title":"Time [s]","titleFontSize":33,"titleFontWeight":"normal","titleColor":"#262626","titlePadding":5,"titleFont":"Liberation Sans"}},
"y":{"field":"a","type":"quantitative","scale":{"domain":[-22.0,33.3],"nice":false,"zero":false},
"axis":{"values":[0],"grid":true,"gridColor":"#dfdfdf","domainColor":"#262626","tickColor":"#262626","tickSize":-7,"labelFontSize":30,"labelColor":"#262626","labelPadding":20,"labelFont":"Liberation Sans","title":"Acceleration [m/s²]","titleFontSize":38,"titleFontWeight":"normal","titleColor":"#262626","titlePadding":7,"titleY":290,"titleFont":"Liberation Sans"}},
"color":{"field":"s","type":"nominal","scale":{"domain":["chassis front","chassis rear"],"range":["#ff0000","#0000ff"]},
"legend":{"orient":"none","legendX":493,"legendY":7,"title":null,"fillColor":"white","strokeColor":"#262626","padding":7,"labelFontSize":27,"labelFont":"Liberation Sans","labelColor":"#000000","labelExpr":"datum.label + '\u00a0\u00a0\u00a0'","symbolType":"M-1.4,0H3.6","symbolSize":400,"symbolStrokeWidth":1.2,"labelOffset":28,"rowPadding":10}}
}},
{"mark":{"type":"rule","strokeOpacity":0},
"encoding":{
"x":{"field":"t","type":"quantitative","axis":{"orient":"top","values":[0,2,4,6,8,10,12,14,16],"labels":false,"title":null,"grid":false,"domainColor":"#262626","tickColor":"#262626","tickSize":-7}}
}}
]
}
